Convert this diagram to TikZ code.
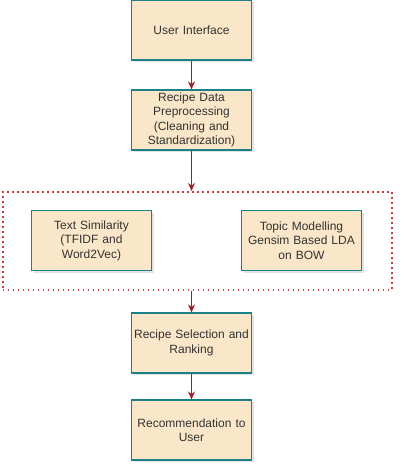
\documentclass[tikz,border=0pt]{standalone}
\usepackage{fontspec}
\setmainfont{Liberation Sans}
\usepackage{xcolor}
\usepackage{tikz}
\usetikzlibrary{positioning,arrows.meta,shadows}
\definecolor{cfill}{HTML}{FAE6C8}
\definecolor{cedge}{HTML}{1A8187}
\definecolor{carrow}{HTML}{A51C24}
\definecolor{cdot}{HTML}{C83C3C}
\definecolor{ctext}{HTML}{333333}

\begin{document}
\begin{tikzpicture}[
  x=1pt, y=-1pt,
  font=\fontsize{12}{14.5}\selectfont,
  stepbox/.style={draw=cedge, fill=cfill, line width=1.1pt, minimum width=120pt, minimum height=60pt,
    text width=116pt, align=center, inner sep=1pt, text=ctext,
    drop shadow={opacity=0.22, shadow xshift=2pt, shadow yshift=-2pt}},
  grpbox/.style={draw=cdot, line width=2pt, dash pattern=on 1.8pt off 3.2pt, minimum width=389pt, minimum height=98pt, inner sep=0pt},
  flow/.style={-{Stealth[length=8pt,width=7pt]}, carrow, line width=1.1pt},
]
  \useasboundingbox (0,0) rectangle (404,472);
  % --- main chain ---
  \node[stepbox] (ui) at (191.5,30) {User Interface};
  \node[stepbox] (prep) at (191.5,120) {Recipe Data\\Preprocessing\\(Cleaning and\\Standardization)};
  % --- grouped models ---
  \node[grpbox] (grp) at (197,241) {};
  \node[stepbox] (sim) at (91.5,240.5) {Text Similarity\\(TFIDF and\\Word2Vec)};
  \node[stepbox] (lda) at (301.5,240.5) {Topic Modelling\\Gensim Based LDA\\on BOW};
  % --- output ---
  \node[stepbox] (rank) at (191.5,343) {Recipe Selection and\\Ranking};
  \node[stepbox] (rec) at (191.5,430) {Recommendation to\\User};
  % --- arrows ---
  \draw[flow] (ui.south) -- (prep.north);
  \draw[flow] (prep.south) -- (prep.south |- grp.north);
  \draw[flow] (prep.south |- grp.south) -- (rank.north);
  \draw[flow] (rank.south) -- (rec.north);
\end{tikzpicture}
\end{document}
